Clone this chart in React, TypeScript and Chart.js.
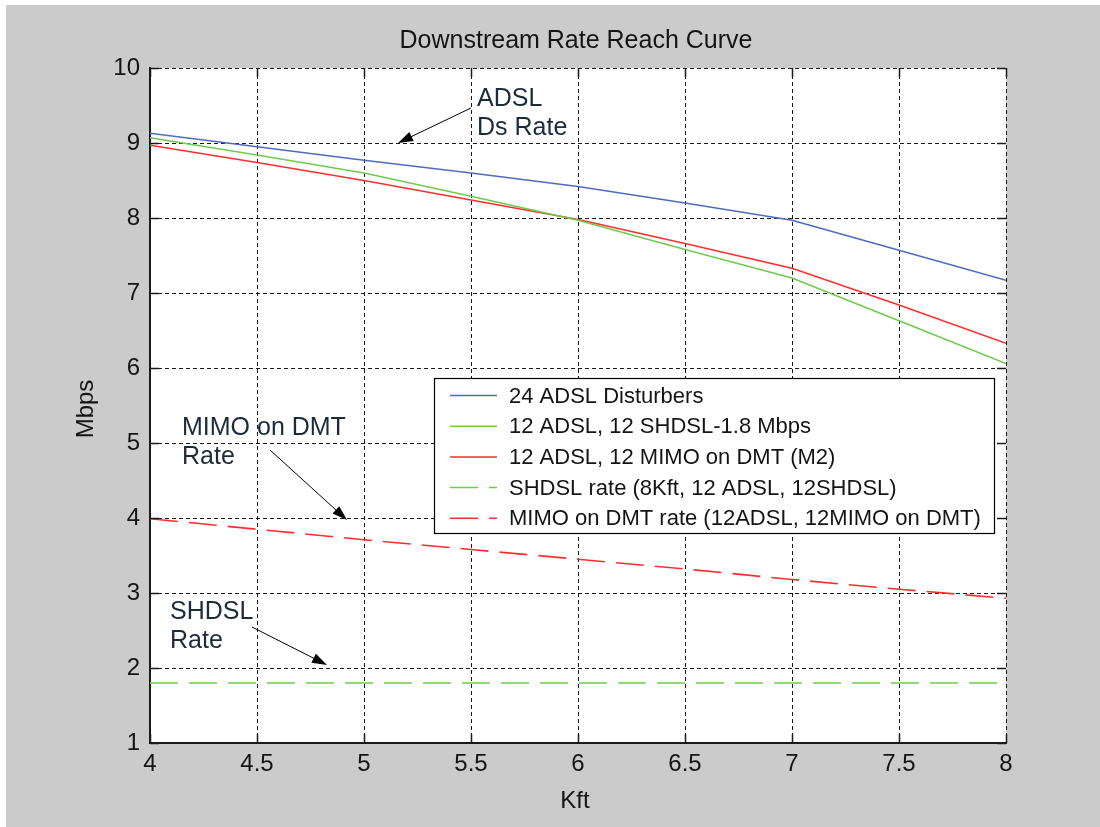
import React, { useEffect, useRef } from "react";
import { Chart, registerables } from "chart.js";

Chart.register(...registerables);

const kft = [4, 4.5, 5, 5.5, 6, 6.5, 7, 7.5, 8];
const adsl24 = [9.13, 8.95, 8.77, 8.6, 8.42, 8.2, 7.97, 7.57, 7.17];
const adslShdsl = [9.07, 8.84, 8.6, 8.29, 7.97, 7.58, 7.2, 6.63, 6.06];
const adslMimo = [8.97, 8.74, 8.5, 8.24, 7.98, 7.66, 7.33, 6.84, 6.33];
const shdslRate = [1.8, 1.8, 1.8, 1.8, 1.8, 1.8, 1.8, 1.8, 1.8];
const mimoRate = [3.99, 3.85, 3.71, 3.58, 3.45, 3.32, 3.18, 3.05, 2.93];

const seriesLabels = [
  "24 ADSL Disturbers",
  "12 ADSL, 12 SHDSL-1.8 Mbps",
  "12 ADSL, 12 MIMO on DMT (M2)",
  "SHDSL rate (8Kft, 12 ADSL, 12SHDSL)",
  "MIMO on DMT rate (12ADSL, 12MIMO on DMT)",
];

const title = "Downstream Rate Reach Curve";
const xTitle = "Kft";
const yTitle = "Mbps";

const annotations = [
  { lines: ["ADSL", "Ds Rate"], x: 477, y: 106, from: [471, 108], to: [398, 143] },
  { lines: ["MIMO on DMT", "Rate"], x: 182, y: 435, from: [270, 450], to: [347, 520] },
  { lines: ["SHDSL", "Rate"], x: 170, y: 619, from: [252, 627], to: [327, 665] },
];

const BLUE = "#4d6cc0";
const GREEN = "#6dcb4f";
const RED = "#ff2e2e";
const FONT = 'Arial, "Liberation Sans", sans-serif';
const TEXT = "#141414";
const ANNOT = "#1b2b3b";

function drawArrow(ctx: CanvasRenderingContext2D, from: number[], to: number[]) {
  const [x0, y0] = from;
  const [x1, y1] = to;
  const ang = Math.atan2(y1 - y0, x1 - x0);
  const hl = 15;
  const hw = 5;
  ctx.save();
  ctx.strokeStyle = "#000";
  ctx.lineWidth = 1;
  ctx.setLineDash([]);
  ctx.beginPath();
  ctx.moveTo(x0, y0);
  ctx.lineTo(x1 - Math.cos(ang) * hl * 0.8, y1 - Math.sin(ang) * hl * 0.8);
  ctx.stroke();
  ctx.fillStyle = "#000";
  ctx.beginPath();
  ctx.moveTo(x1, y1);
  ctx.lineTo(
    x1 - Math.cos(ang) * hl - Math.sin(ang) * hw,
    y1 - Math.sin(ang) * hl + Math.cos(ang) * hw
  );
  ctx.lineTo(
    x1 - Math.cos(ang) * hl + Math.sin(ang) * hw,
    y1 - Math.sin(ang) * hl - Math.cos(ang) * hw
  );
  ctx.closePath();
  ctx.fill();
  ctx.restore();
}

const decoPlugin = {
  id: "deco",
  beforeDraw(chart: any) {
    const { ctx, width, height, chartArea } = chart;
    ctx.save();
    ctx.fillStyle = "#ffffff";
    ctx.fillRect(0, 0, width, height);
    ctx.fillStyle = "#cbcbcb";
    ctx.fillRect(6, 5, width - 6, height - 5);
    ctx.fillStyle = "#ffffff";
    ctx.fillRect(chartArea.left, chartArea.top, chartArea.right - chartArea.left, chartArea.bottom - chartArea.top);
    ctx.restore();
  },
  afterDraw(chart: any) {
    const { ctx, chartArea, scales } = chart;
    const xs = scales.x;
    const ys = scales.y;
    ctx.save();
    ctx.strokeStyle = "#1a1a1a";
    ctx.lineWidth = 1.5;
    ctx.setLineDash([]);
    const tl = 9;
    xs.ticks.forEach((t: any) => {
      const px = Math.round(xs.getPixelForValue(t.value)) + 0.5;
      ctx.beginPath();
      ctx.moveTo(px, chartArea.bottom);
      ctx.lineTo(px, chartArea.bottom - tl);
      ctx.moveTo(px, chartArea.top);
      ctx.lineTo(px, chartArea.top + tl);
      ctx.stroke();
    });
    ys.ticks.forEach((t: any) => {
      const py = Math.round(ys.getPixelForValue(t.value)) + 0.5;
      ctx.beginPath();
      ctx.moveTo(chartArea.left, py);
      ctx.lineTo(chartArea.left + tl, py);
      ctx.moveTo(chartArea.right, py);
      ctx.lineTo(chartArea.right - tl, py);
      ctx.stroke();
    });

    ctx.fillStyle = TEXT;
    ctx.font = `25px ${FONT}`;
    ctx.textAlign = "center";
    ctx.textBaseline = "alphabetic";
    ctx.fillText(title, (chartArea.left + chartArea.right) / 2 - 2, 48);
    ctx.font = `24px ${FONT}`;
    ctx.fillText(xTitle, (chartArea.left + chartArea.right) / 2 - 3, 808);
    ctx.save();
    ctx.translate(93, 409);
    ctx.rotate(-Math.PI / 2);
    ctx.fillText(yTitle, 0, 0);
    ctx.restore();

    const lx = 434.5, ly = 378.5, lw = 560, lh = 155;
    ctx.fillStyle = "#ffffff";
    ctx.fillRect(lx, ly, lw, lh);
    ctx.strokeStyle = "#000";
    ctx.lineWidth = 1.2;
    ctx.strokeRect(lx, ly, lw, lh);
    ctx.font = `22px ${FONT}`;
    ctx.textAlign = "left";
    ctx.textBaseline = "middle";
    chart.data.datasets.forEach((ds: any, i: number) => {
      const cy = ly + 17 + i * 30.7;
      ctx.save();
      ctx.beginPath();
      ctx.rect(450, cy - 5, 47, 10);
      ctx.clip();
      ctx.strokeStyle = ds.borderColor;
      ctx.lineWidth = 1.5;
      ctx.setLineDash(ds.borderDash || []);
      ctx.beginPath();
      ctx.moveTo(450, cy);
      ctx.lineTo(497, cy);
      ctx.stroke();
      ctx.restore();
      ctx.fillStyle = TEXT;
      ctx.fillText(ds.label, 509, cy + 1);
    });

    ctx.font = `25px ${FONT}`;
    ctx.textBaseline = "alphabetic";
    ctx.textAlign = "left";
    annotations.forEach((a) => {
      ctx.fillStyle = ANNOT;
      a.lines.forEach((ln, k) => ctx.fillText(ln, a.x, a.y + k * 29));
      drawArrow(ctx, a.from, a.to);
    });
    ctx.restore();
  },
};

export default function App() {
  const ref = useRef<HTMLCanvasElement | null>(null);
  useEffect(() => {
    document.body.style.margin = "0";
    const canvas = ref.current;
    if (!canvas) return;
    const mk = (label: string, data: number[], color: string, dash?: number[]) => ({
      label,
      data: kft.map((x, i) => ({ x, y: data[i] })),
      borderColor: color,
      backgroundColor: color,
      borderWidth: 1.6,
      borderDash: dash || [],
      pointRadius: 0,
      tension: 0,
      fill: false,
    });
    const chart = new Chart(canvas, {
      type: "line",
      data: {
        datasets: [
          mk(seriesLabels[0], adsl24, BLUE),
          mk(seriesLabels[1], adslShdsl, GREEN),
          mk(seriesLabels[2], adslMimo, RED),
          mk(seriesLabels[3], shdslRate, GREEN, [28, 11]),
          mk(seriesLabels[4], mimoRate, RED, [28, 11]),
        ],
      },
      options: {
        responsive: false,
        animation: false,
        devicePixelRatio: 1,
        layout: { padding: { top: 68, right: 94, left: 0, bottom: 0 } },
        plugins: {
          legend: { display: false },
          title: { display: false },
          tooltip: { enabled: false },
        },
        scales: {
          x: {
            type: "linear",
            min: 4,
            max: 8,
            afterFit: (s: any) => {
              s.height = 84;
            },
            ticks: {
              stepSize: 0.5,
              autoSkip: false,
              maxRotation: 0,
              padding: 7,
              color: TEXT,
              font: { family: FONT, size: 24 },
              callback: (v: any) => String(Number(v)),
            },
            grid: { color: "#1a1a1a", lineWidth: 1, drawTicks: false },
            border: { display: true, color: "#1a1a1a", width: 2, dash: [4, 3] },
          },
          y: {
            type: "linear",
            min: 1,
            max: 10,
            afterFit: (s: any) => {
              s.width = 150;
            },
            ticks: {
              stepSize: 1,
              autoSkip: false,
              padding: 10,
              color: TEXT,
              font: { family: FONT, size: 24 },
              callback: (v: any) => String(Number(v)),
            },
            grid: { color: "#1a1a1a", lineWidth: 1, drawTicks: false },
            border: { display: true, color: "#1a1a1a", width: 2, dash: [4, 3] },
          },
        },
      },
      plugins: [decoPlugin],
    } as any);
    return () => chart.destroy();
  }, []);
  return <canvas ref={ref} width={1100} height={827} style={{ display: "block", width: 1100, height: 827 }} />;
}
